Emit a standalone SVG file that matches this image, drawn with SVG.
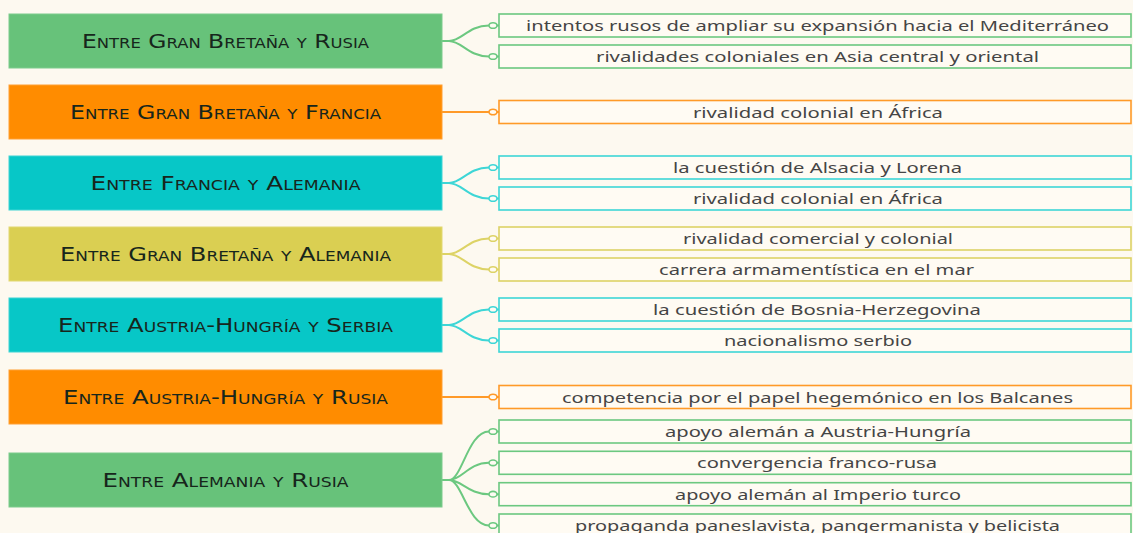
<svg xmlns="http://www.w3.org/2000/svg" width="1133" height="533" viewBox="0 0 1133 533">
<defs>
<style>
.bg{fill:#fdf9f0}
.lbl{font-family:"DejaVu Sans Condensed","Liberation Sans",sans-serif;font-size:20px;font-variant:small-caps;fill:#17261c;text-anchor:middle}
.itm{font-family:"Noto Sans","Liberation Sans",sans-serif;font-size:15px;fill:#454545;text-anchor:middle}
.cbox{fill:#fffbf3;stroke-width:1.6}
.con{fill:none;stroke-width:2}
.dot{fill:#fffbf3;stroke-width:1.6}
.g{fill:#67c27a;stroke:#7ccc8c}
.o{fill:#ff8c00;stroke:#ff9f33}
.t{fill:#07c7c7;stroke:#3fd4d4}
.y{fill:#dacf52;stroke:#e2d870}
.gs{stroke:#6cc880}
.os{stroke:#ff9a28}
.ts{stroke:#3ed6d6}
.ys{stroke:#ddd366}
</style>
</defs>
<rect class="bg" x="0" y="0" width="1133" height="533"/>

<g id="connectors">
<g class="gs">
<path class="con" d="M442,41 L449,41 C462,41 468,25.5 489,25.5 M442,41 L449,41 C462,41 468,56.5 489,56.5"/>
<path class="con" d="M497,25.5 H499 M497,56.5 H499"/>
<ellipse class="dot" cx="493" cy="25.5" rx="4" ry="2.8"/>
<ellipse class="dot" cx="493" cy="56.5" rx="4" ry="2.8"/>
</g>
<g class="os">
<path class="con" d="M442,112 H499"/>
<ellipse class="dot" cx="493" cy="112" rx="4" ry="2.8"/>
</g>
<g class="ts">
<path class="con" d="M442,183 L449,183 C462,183 468,167.5 489,167.5 M442,183 L449,183 C462,183 468,198.5 489,198.5"/>
<path class="con" d="M497,167.5 H499 M497,198.5 H499"/>
<ellipse class="dot" cx="493" cy="167.5" rx="4" ry="2.8"/>
<ellipse class="dot" cx="493" cy="198.5" rx="4" ry="2.8"/>
</g>
<g class="ys">
<path class="con" d="M442,254 L449,254 C462,254 468,238.5 489,238.5 M442,254 L449,254 C462,254 468,269.5 489,269.5"/>
<path class="con" d="M497,238.5 H499 M497,269.5 H499"/>
<ellipse class="dot" cx="493" cy="238.5" rx="4" ry="2.8"/>
<ellipse class="dot" cx="493" cy="269.5" rx="4" ry="2.8"/>
</g>
<g class="ts">
<path class="con" d="M442,325 L449,325 C462,325 468,309.5 489,309.5 M442,325 L449,325 C462,325 468,340.5 489,340.5"/>
<path class="con" d="M497,309.5 H499 M497,340.5 H499"/>
<ellipse class="dot" cx="493" cy="309.5" rx="4" ry="2.8"/>
<ellipse class="dot" cx="493" cy="340.5" rx="4" ry="2.8"/>
</g>
<g class="os">
<path class="con" d="M442,397 H499"/>
<ellipse class="dot" cx="493" cy="397" rx="4" ry="2.8"/>
</g>
<g class="gs">
<path class="con" d="M442,480 L449,480 C462,480 468,431.5 489,431.5 M442,480 L449,480 C462,480 468,462.8 489,462.8 M442,480 L449,480 C462,480 468,494.2 489,494.2 M442,480 L449,480 C462,480 468,525.5 489,525.5"/>
<path class="con" d="M497,431.5 H499 M497,462.8 H499 M497,494.2 H499 M497,525.5 H499"/>
<ellipse class="dot" cx="493" cy="431.5" rx="4" ry="2.8"/>
<ellipse class="dot" cx="493" cy="462.8" rx="4" ry="2.8"/>
<ellipse class="dot" cx="493" cy="494.2" rx="4" ry="2.8"/>
<ellipse class="dot" cx="493" cy="525.5" rx="4" ry="2.8"/>
</g>
</g>

<g id="n1">
<rect class="g" x="9" y="14" width="433" height="54"/>
<text class="lbl" x="225.5" y="48" textLength="287" lengthAdjust="spacingAndGlyphs">Entre Gran Bretaña y Rusia</text>
</g>
<g id="n1a"><rect class="cbox gs" x="499" y="14" width="632" height="23"/><text class="itm" x="817.5" y="31" textLength="583" lengthAdjust="spacingAndGlyphs">intentos rusos de ampliar su expansión hacia el Mediterráneo</text></g>
<g id="n1b"><rect class="cbox gs" x="499" y="45" width="632" height="23"/><text class="itm" x="817.5" y="62" textLength="443" lengthAdjust="spacingAndGlyphs">rivalidades coloniales en Asia central y oriental</text></g>

<g id="n2">
<rect class="o" x="9" y="85" width="433" height="54"/>
<text class="lbl" x="225.5" y="119" textLength="311" lengthAdjust="spacingAndGlyphs">Entre Gran Bretaña y Francia</text>
</g>
<g id="n2a"><rect class="cbox os" x="499" y="100.5" width="632" height="23"/><text class="itm" x="818" y="117.5" textLength="250" lengthAdjust="spacingAndGlyphs">rivalidad colonial en África</text></g>

<g id="n3">
<rect class="t" x="9" y="156" width="433" height="54"/>
<text class="lbl" x="225.5" y="190" textLength="270" lengthAdjust="spacingAndGlyphs">Entre Francia y Alemania</text>
</g>
<g id="n3a"><rect class="cbox ts" x="499" y="156" width="632" height="23"/><text class="itm" x="817.5" y="173" textLength="289" lengthAdjust="spacingAndGlyphs">la cuestión de Alsacia y Lorena</text></g>
<g id="n3b"><rect class="cbox ts" x="499" y="187" width="632" height="23"/><text class="itm" x="818" y="204" textLength="250" lengthAdjust="spacingAndGlyphs">rivalidad colonial en África</text></g>

<g id="n4">
<rect class="y" x="9" y="227" width="433" height="54"/>
<text class="lbl" x="225.5" y="261" textLength="331" lengthAdjust="spacingAndGlyphs">Entre Gran Bretaña y Alemania</text>
</g>
<g id="n4a"><rect class="cbox ys" x="499" y="227" width="632" height="23"/><text class="itm" x="818" y="244" textLength="270" lengthAdjust="spacingAndGlyphs">rivalidad comercial y colonial</text></g>
<g id="n4b"><rect class="cbox ys" x="499" y="258" width="632" height="23"/><text class="itm" x="816.5" y="275" textLength="315" lengthAdjust="spacingAndGlyphs">carrera armamentística en el mar</text></g>

<g id="n5">
<rect class="t" x="9" y="298" width="433" height="54"/>
<text class="lbl" x="225.5" y="332" textLength="335" lengthAdjust="spacingAndGlyphs">Entre Austria-Hungría y Serbia</text>
</g>
<g id="n5a"><rect class="cbox ts" x="499" y="298" width="632" height="23"/><text class="itm" x="817" y="315" textLength="328" lengthAdjust="spacingAndGlyphs">la cuestión de Bosnia-Herzegovina</text></g>
<g id="n5b"><rect class="cbox ts" x="499" y="329" width="632" height="23"/><text class="itm" x="818" y="346" textLength="188" lengthAdjust="spacingAndGlyphs">nacionalismo serbio</text></g>

<g id="n6">
<rect class="o" x="9" y="370" width="433" height="54"/>
<text class="lbl" x="225.5" y="404" textLength="325" lengthAdjust="spacingAndGlyphs">Entre Austria-Hungría y Rusia</text>
</g>
<g id="n6a"><rect class="cbox os" x="499" y="385.5" width="632" height="23"/><text class="itm" x="817.5" y="402.5" textLength="511" lengthAdjust="spacingAndGlyphs">competencia por el papel hegemónico en los Balcanes</text></g>

<g id="n7">
<rect class="g" x="9" y="453" width="433" height="54"/>
<text class="lbl" x="225.5" y="487" textLength="246" lengthAdjust="spacingAndGlyphs">Entre Alemania y Rusia</text>
</g>
<g id="n7a"><rect class="cbox gs" x="499" y="420" width="632" height="23"/><text class="itm" x="818" y="437" textLength="306" lengthAdjust="spacingAndGlyphs">apoyo alemán a Austria-Hungría</text></g>
<g id="n7b"><rect class="cbox gs" x="499" y="451.3" width="632" height="23"/><text class="itm" x="817" y="468.3" textLength="240" lengthAdjust="spacingAndGlyphs">convergencia franco-rusa</text></g>
<g id="n7c"><rect class="cbox gs" x="499" y="482.7" width="632" height="23"/><text class="itm" x="818" y="499.7" textLength="286" lengthAdjust="spacingAndGlyphs">apoyo alemán al Imperio turco</text></g>
<g id="n7d"><rect class="cbox gs" x="499" y="514" width="632" height="23"/><text class="itm" x="817.5" y="531" textLength="485" lengthAdjust="spacingAndGlyphs">propaganda paneslavista, pangermanista y belicista</text></g>
</svg>
